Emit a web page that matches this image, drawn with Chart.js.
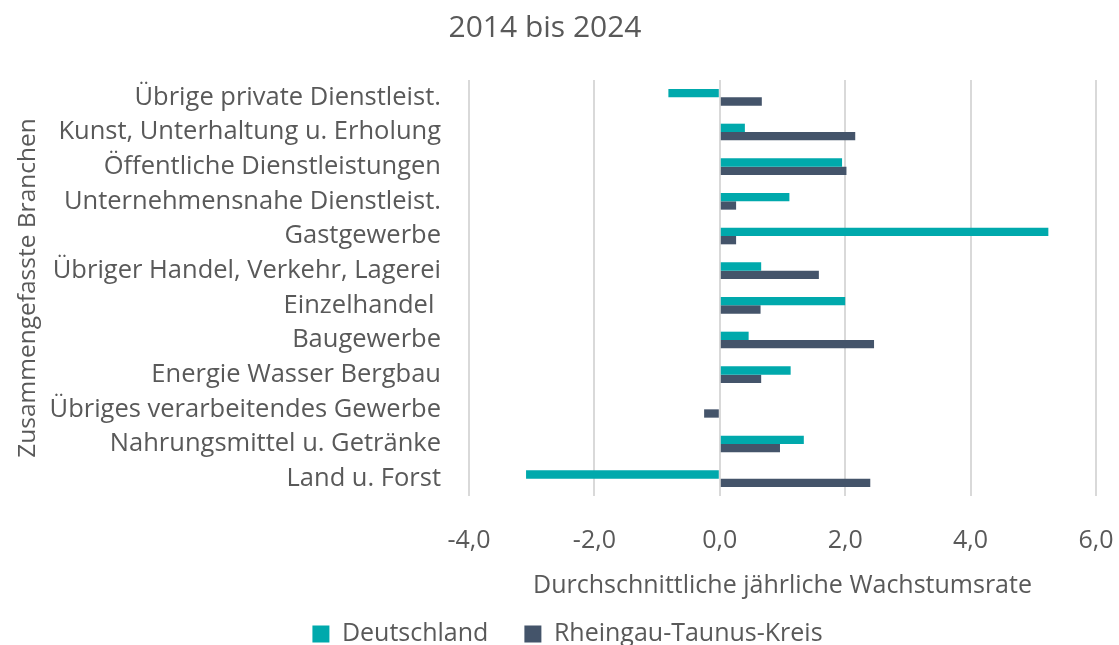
<!DOCTYPE html>
<html>
<head>
<meta charset="utf-8">
<script src="https://cdn.jsdelivr.net/npm/chart.js@4.4.1/dist/chart.umd.min.js"></script>
<style>
html,body{margin:0;padding:0;background:#fff;}
#wrap{width:1119px;height:645px;}
</style>
</head>
<body>
<div id="wrap"><canvas id="c" width="1119" height="645"></canvas></div>
<script>
const titleText = "2014 bis 2024";
const categories = [
  "Übrige private Dienstleist.",
  "Kunst, Unterhaltung u. Erholung",
  "Öffentliche Dienstleistungen",
  "Unternehmensnahe Dienstleist.",
  "Gastgewerbe",
  "Übriger Handel, Verkehr, Lagerei",
  "Einzelhandel ",
  "Baugewerbe",
  "Energie Wasser Bergbau",
  "Übriges verarbeitendes Gewerbe",
  "Nahrungsmittel u. Getränke",
  "Land u. Forst"
];
const deutschland = [-0.82, 0.40, 1.95, 1.11, 5.24, 0.66, 2.00, 0.46, 1.13, 0.0, 1.34, -3.09];
const rheingau = [0.67, 2.16, 2.02, 0.26, 0.26, 1.58, 0.65, 2.46, 0.66, -0.25, 0.96, 2.40];
const seriesNames = ["Deutschland", "Rheingau-Taunus-Kreis"];
const xTicks = [-4, -2, 0, 2, 4, 6];
const xTitle = "Durchschnittliche jährliche Wachstumsrate";
const yTitle = "Zusammengefasste Branchen";

const FONT = "'Open Sans', sans-serif";
const TXT = "#595959";

const titlePlugin = {
  id: 'customTitle',
  afterDraw(chart) {
    const ctx = chart.ctx;
    ctx.save();
    ctx.font = "30px " + FONT;
    ctx.fillStyle = TXT;
    ctx.textAlign = "center";
    ctx.textBaseline = "middle";
    ctx.fillText(titleText, 545, 28);
    ctx.restore();
  }
};

new Chart(document.getElementById('c'), {
  type: 'bar',
  data: {
    labels: categories,
    datasets: [
      { label: seriesNames[0], data: deutschland, backgroundColor: '#00A9AC', borderWidth: 0 },
      { label: seriesNames[1], data: rheingau, backgroundColor: '#44546A', borderWidth: 0 }
    ]
  },
  options: {
    indexAxis: 'y',
    responsive: false,
    animation: false,
    devicePixelRatio: 1,
    layout: { padding: { top: 80, left: 16, right: 0, bottom: -11.5 } },
    datasets: { bar: { categoryPercentage: 0.48, barPercentage: 1.0 } },
    scales: {
      x: {
        min: -4, max: 6,
        afterBuildTicks(scale) { scale.ticks = xTicks.map(v => ({ value: v })); },
        afterFit(scale) { scale.height = 89.5; scale.paddingRight = 23; scale.paddingLeft = 0; },
        grid: { color: '#d9d9d9', lineWidth: 2, drawTicks: false },
        border: { display: false },
        ticks: {
          padding: 30,
          color: TXT,
          font: { family: FONT, size: 25 },
          callback: v => Number(v).toFixed(1).replace('.', ',')
        },
        title: {
          display: true, text: xTitle, color: TXT,
          font: { family: FONT, size: 25 },
          padding: { top: 0, bottom: -15 }
        }
      },
      y: {
        afterFit(scale) { scale.width = 453; },
        grid: { display: false, drawTicks: false },
        border: { display: false },
        ticks: {
          padding: 28,
          color: TXT,
          autoSkip: false,
          font: { family: FONT, size: 25.5 }
        },
        title: {
          display: true, text: yTitle, color: TXT,
          font: { family: FONT, size: 24.5 },
          padding: { top: -3, bottom: 0 }
        }
      }
    },
    plugins: {
      title: { display: false },
      tooltip: { enabled: false },
      legend: {
        position: 'bottom',
        labels: {
          color: TXT,
          font: { family: FONT, size: 25 },
          boxWidth: 17, boxHeight: 17,
          padding: 36
        }
      }
    }
  },
  plugins: [titlePlugin]
});
</script>
</body>
</html>
